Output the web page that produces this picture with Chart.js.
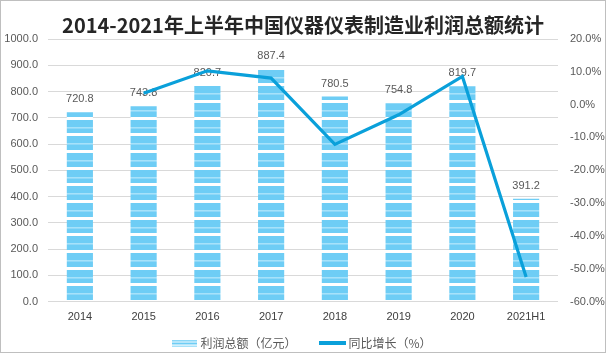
<!DOCTYPE html>
<html><head><meta charset="utf-8">
<script src="https://cdn.jsdelivr.net/npm/chart.js@4.4.1/dist/chart.umd.min.js"></script>
<style>html,body{margin:0;padding:0;background:#fff}#wrap{width:606px;height:355px;position:relative}canvas{display:block}</style>
</head><body><div id="wrap"><canvas id="c" width="606" height="355"></canvas></div>
<script>
const chartTitle = '2014-2021年上半年中国仪器仪表制造业利润总额统计';
const categories = ['2014','2015','2016','2017','2018','2019','2020','2021H1'];
const profitValues = [720.8, 743.8, 820.7, 887.4, 780.5, 754.8, 819.7, 391.2];
const growthValues = [null, 3.5, 10.3, 8.1, -12.1, -3.1, 8.6, -52.5];
const leftTickLabels = ['0.0','100.0','200.0','300.0','400.0','500.0','600.0','700.0','800.0','900.0','1000.0'];
const rightTickLabels = ['-60.0%','-50.0%','-40.0%','-30.0%','-20.0%','-10.0%','0.0%','10.0%','20.0%'];
const seriesNames = ['利润总额（亿元）','同比增长（%）'];

const BLUE = '#6ecdf5', LIGHT = '#a6e2fa', LINE = '#0aa0da';

// striped pattern tile (3 periods of ~16.7px)
function makeTile(){
  const t = document.createElement('canvas'); t.width = 8; t.height = 50;
  const c = t.getContext('2d');
  c.fillStyle = BLUE; c.fillRect(0,0,8,50);
  [0,17,33].forEach(b=>{
    c.fillStyle = '#ffffff'; c.fillRect(0,b,8,3);
    c.fillStyle = LIGHT; c.fillRect(0,b+10,8,1);
    c.fillStyle = '#8fd8f8'; c.fillRect(0,b+11,8,1);
  });
  return t;
}
const cctx = document.getElementById('c').getContext('2d');
const barPattern = cctx.createPattern(makeTile(),'repeat');

function legendBarImg(){
  const t = document.createElement('canvas'); t.width = 25; t.height = 7;
  const c = t.getContext('2d');
  c.fillStyle = BLUE; c.fillRect(0,0,25,7);
  c.fillStyle = LIGHT; c.fillRect(0,0,25,1);
  c.fillStyle = '#ffffff'; c.fillRect(0,2,25,1); c.fillRect(0,5,25,1);
  c.fillStyle = LIGHT; c.fillRect(0,6,25,1);
  return t;
}
function legendLineImg(){
  const t = document.createElement('canvas'); t.width = 27; t.height = 4;
  const c = t.getContext('2d');
  c.fillStyle = LINE; c.fillRect(0,0,27,4);
  return t;
}
const legendImgs = [legendBarImg(), legendLineImg()];

const bgPlugin = {
  id:'bg',
  beforeDraw(chart){
    const c = chart.ctx; c.save(); c.fillStyle='#fff'; c.fillRect(0,0,chart.width,chart.height); c.restore();
  },
  afterDraw(chart){
    const c = chart.ctx; c.save(); c.strokeStyle='#bfbfbf'; c.lineWidth=1; c.strokeRect(0.5,0.5,chart.width-1,352); c.restore();
  }
};
const barLabelPlugin = {
  id:'barLabels',
  afterDatasetDraw(chart, args){
    if (args.index !== 0) return;
    const c = chart.ctx; c.save();
    c.font = '11px "Liberation Sans"'; c.fillStyle = '#595959';
    c.textAlign = 'center'; c.textBaseline = 'middle';
    args.meta.data.forEach((bar,i)=>{ c.fillText(profitValues[i].toFixed(1), bar.x, bar.y - 13); });
    c.restore();
  }
};
const legendShift = {
  id:'legendShift',
  afterLayout(chart){
    const lg = chart.legend; if (!lg) return;
    lg.top = 343 - 6 - 26; lg.bottom = chart.height; lg.height = lg.bottom - lg.top;
  }
};

const tickFont = {family:'"Liberation Sans", Arial, sans-serif', size:11};

new Chart(cctx, {
  data: {
    labels: categories,
    datasets: [
      {type:'bar', label:seriesNames[0], data:profitValues, backgroundColor:barPattern, yAxisID:'y', order:1,
       categoryPercentage:1, barPercentage:0.41},
      {type:'line', label:seriesNames[1], data:growthValues, borderColor:LINE, backgroundColor:LINE, borderWidth:3.2,
       pointRadius:0, yAxisID:'y1', order:0, tension:0, spanGaps:false}
    ]
  },
  options: {
    responsive:false, animation:false, devicePixelRatio:1,
    layout:{padding:0},
    plugins:{
      title:{display:true, text:chartTitle, color:'#262626',
        font:{family:'"Noto Sans CJK SC", sans-serif', size:20, weight:'bold'}, padding:{top:13,bottom:2}},
      legend:{position:'bottom', maxHeight:26,
        labels:{usePointStyle:true, pointStyleWidth:20, padding:26, color:'#595959',
          font:{family:'"Noto Sans CJK SC", sans-serif', size:12},
          sort:(a,b)=>a.datasetIndex-b.datasetIndex,
          generateLabels(chart){
            const items = Chart.defaults.plugins.legend.labels.generateLabels(chart);
            items.forEach(it=>{ it.pointStyle = legendImgs[it.datasetIndex]; });
            return items;
          }}},
      tooltip:{enabled:false}
    },
    scales:{
      x:{grid:{display:false, drawTicks:false}, border:{display:false},
         ticks:{font:tickFont, color:'#404040', padding:9, maxRotation:0},
         afterFit(s){ s.height = 27.5; }},
      y:{position:'left', min:0, max:1000,
         ticks:{stepSize:100, font:tickFont, color:'#595959', padding:10, callback:(v,i)=>leftTickLabels[i]},
         grid:{color:'#d9d9d9', lineWidth:1, drawTicks:false}, border:{display:false},
         afterFit(s){ s.width = 48; }},
      y1:{position:'right', min:-60, max:20,
         ticks:{stepSize:10, font:tickFont, color:'#595959', padding:12, callback:(v,i)=>rightTickLabels[i]},
         grid:{display:false, drawTicks:false}, border:{display:false},
         afterFit(s){ s.width = 48; }}
    }
  },
  plugins:[bgPlugin, barLabelPlugin, legendShift]
});
</script></body></html>
